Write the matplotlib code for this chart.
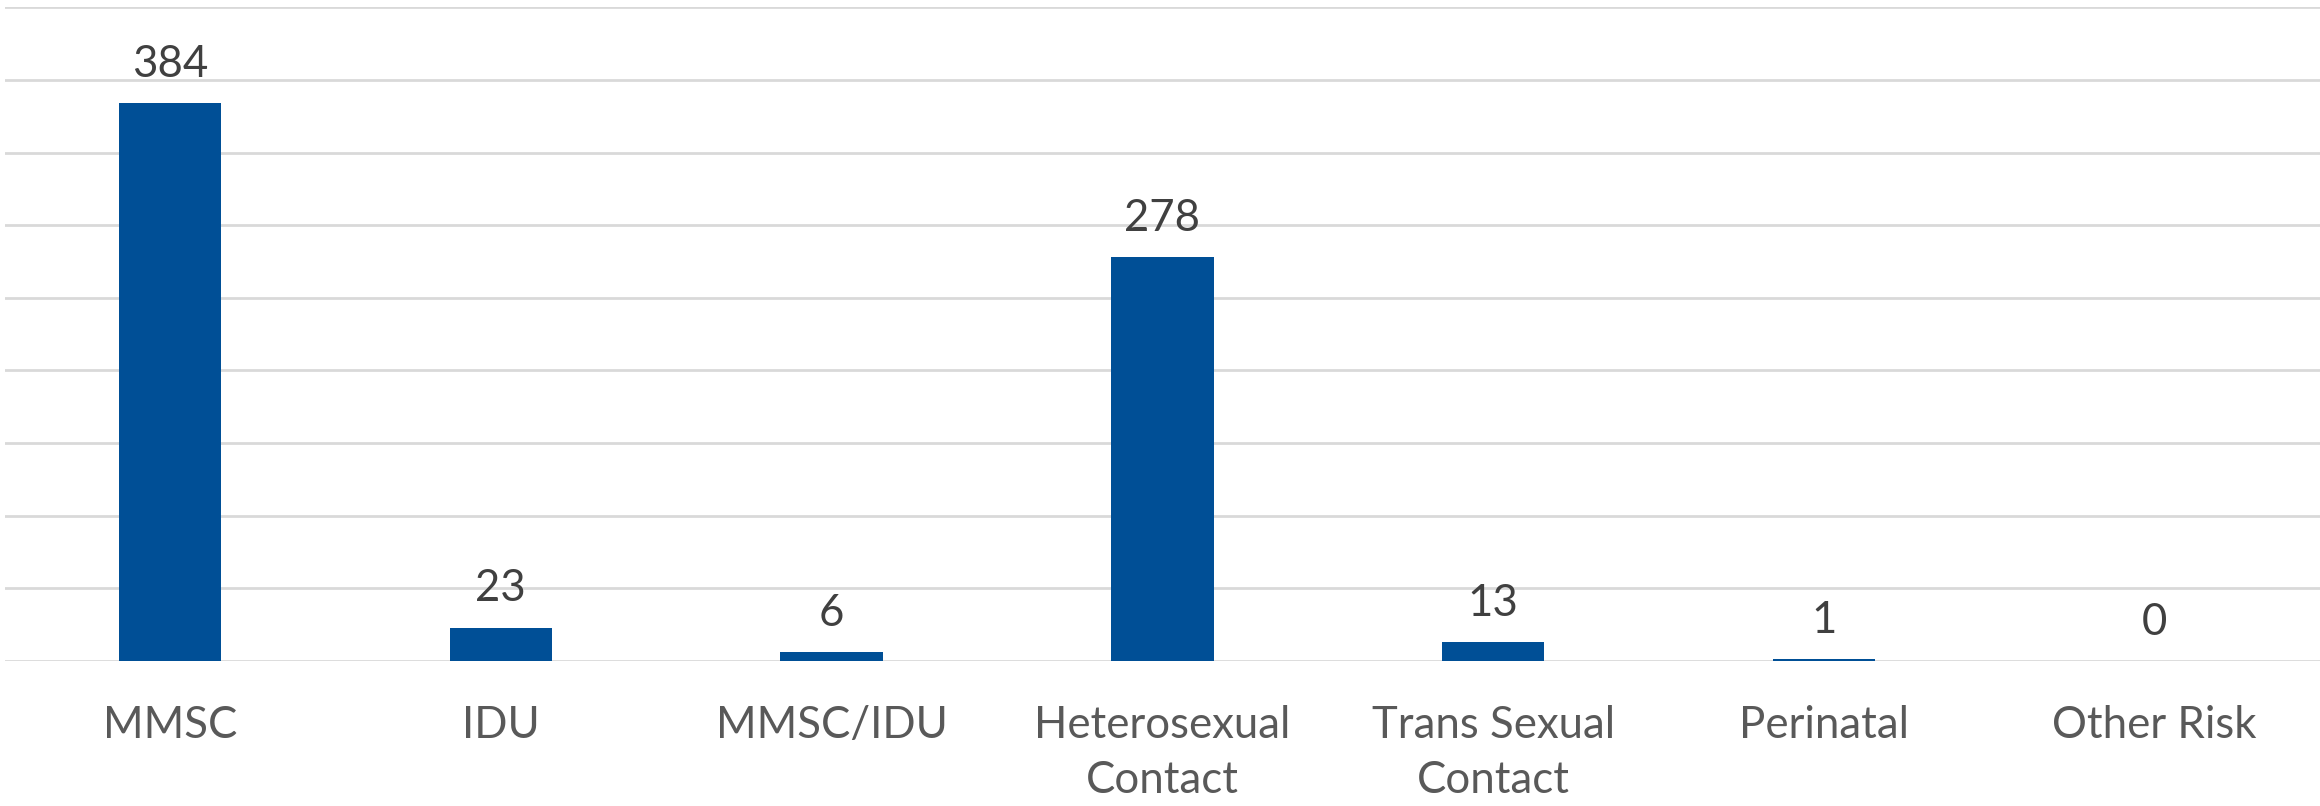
import matplotlib
matplotlib.use("Agg")
import matplotlib.pyplot as plt
import numpy as np

categories = ["MMSC", "IDU", "MMSC/IDU", "Heterosexual\nContact",
              "Trans Sexual\nContact", "Perinatal", "Other Risk"]
counts = [384, 23, 6, 278, 13, 1, 0]

plt.rcParams['font.family'] = ['Lato', 'DejaVu Sans']

fig = plt.figure(figsize=(23.2, 8.06), dpi=100)
ax = fig.add_axes([0.002, 0.18, 0.998, 0.811])

x = np.arange(len(categories))
bars = ax.bar(x, counts, width=0.31, color="#004F96", zorder=3)

for xi, v in zip(x, counts):
    ax.annotate(str(v), (xi, v), xytext=(0, 13), textcoords="offset points",
                ha="center", va="bottom", fontsize=31.5, color="#404040")

ax.set_xlim(-0.5, len(categories) - 0.5)
ax.set_ylim(0, 450)
ax.set_yticks(np.arange(0, 451, 50))
ax.yaxis.grid(True, color="#D9D9D9", linewidth=2, zorder=0)
ax.tick_params(axis="y", left=False, labelleft=False)
ax.tick_params(axis="x", bottom=False, pad=28)
ax.set_xticks(x)
ax.set_xticklabels(categories, fontsize=31.5, color="#595959", linespacing=1.42)
for s in ax.spines.values():
    s.set_visible(False)

fig.savefig("out.png", dpi=100)
